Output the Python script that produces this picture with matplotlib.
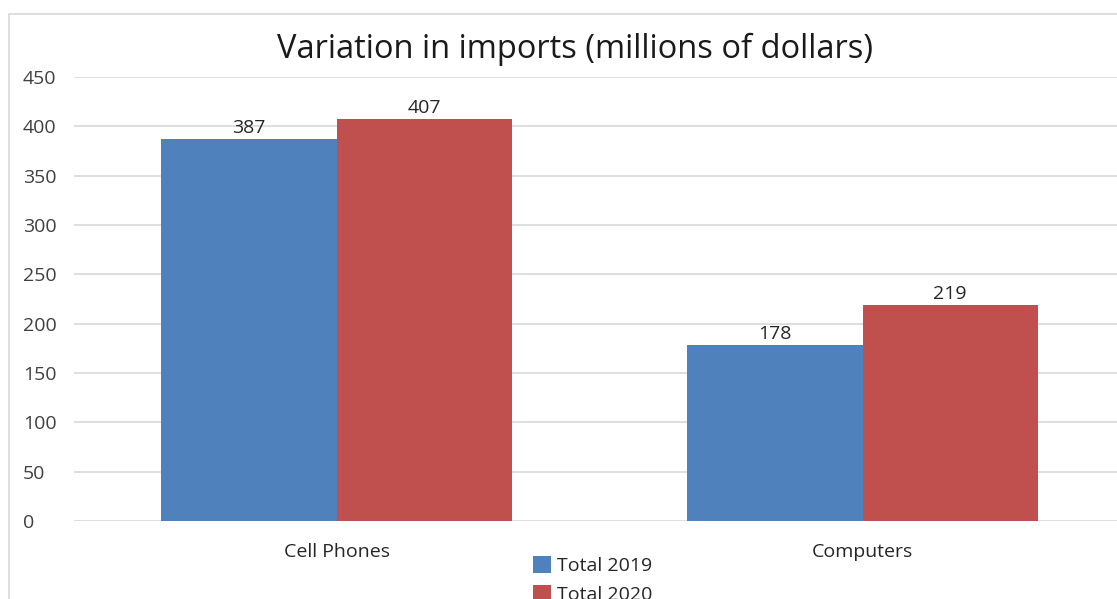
import matplotlib.pyplot as plt
from matplotlib.patches import Rectangle
import numpy as np

categories = ["Cell Phones", "Computers"]
total_2019 = [387, 178]
total_2020 = [407, 219]
y_ticks = [0, 50, 100, 150, 200, 250, 300, 350, 400, 450]

plt.rcParams['font.family'] = ['Open Sans', 'DejaVu Sans']

fig = plt.figure(figsize=(11.17, 5.99), dpi=100)
W, H = 1117, 599

# chart frame (runs off the right and bottom of the image)
fig.patches.append(Rectangle((9 / W, -0.1), 1.2, 1 - 14 / H + 0.1, transform=fig.transFigure,
                             fill=False, edgecolor='#d9d9d9', linewidth=1.2))

ax = fig.add_axes([73.5 / W, 78 / H, 1052 / W, 444 / H])
x = np.arange(len(categories))
w = 1 / 3

b1 = ax.bar(x - w / 2, total_2019, w, color='#4f81bd', label='Total 2019', zorder=3)
b2 = ax.bar(x + w / 2, total_2020, w, color='#c0504d', label='Total 2020', zorder=3)

for bars in (b1, b2):
    for rect in bars:
        ax.text(rect.get_x() + rect.get_width() / 2, rect.get_height() + 2, f"{rect.get_height():.0f}",
                ha='center', va='bottom', fontsize=14, color='#262626')

ax.set_xlim(-0.5, 1.5)
ax.set_ylim(0, 450)
ax.set_yticks(y_ticks)
ax.set_yticklabels([str(v) for v in y_ticks], ha='left')
ax.tick_params(axis='y', length=0, pad=36.5, labelsize=14, labelcolor='#404040')
ax.set_xticks(x)
ax.set_xticklabels(categories)
ax.tick_params(axis='x', length=0, pad=16, labelsize=14, labelcolor='#262626')
ax.grid(axis='y', color='#d9d9d9', linewidth=1.2, zorder=0)
for s in ax.spines.values():
    s.set_visible(False)

fig.text(575 / W, 1 - 49 / H, "Variation in imports (millions of dollars)", ha='center', va='center',
         fontsize=23.5, color='#1a1a1a')

fig.legend(handles=[b1, b2], loc='upper left', bbox_to_anchor=(533 / W, 1 - 556 / H), frameon=False,
           fontsize=14, handlelength=0.93, handleheight=0.93, handletextpad=0.3, labelspacing=0.5,
           borderpad=0, borderaxespad=0, labelcolor='#262626')

fig.savefig('out.png', dpi=100)
